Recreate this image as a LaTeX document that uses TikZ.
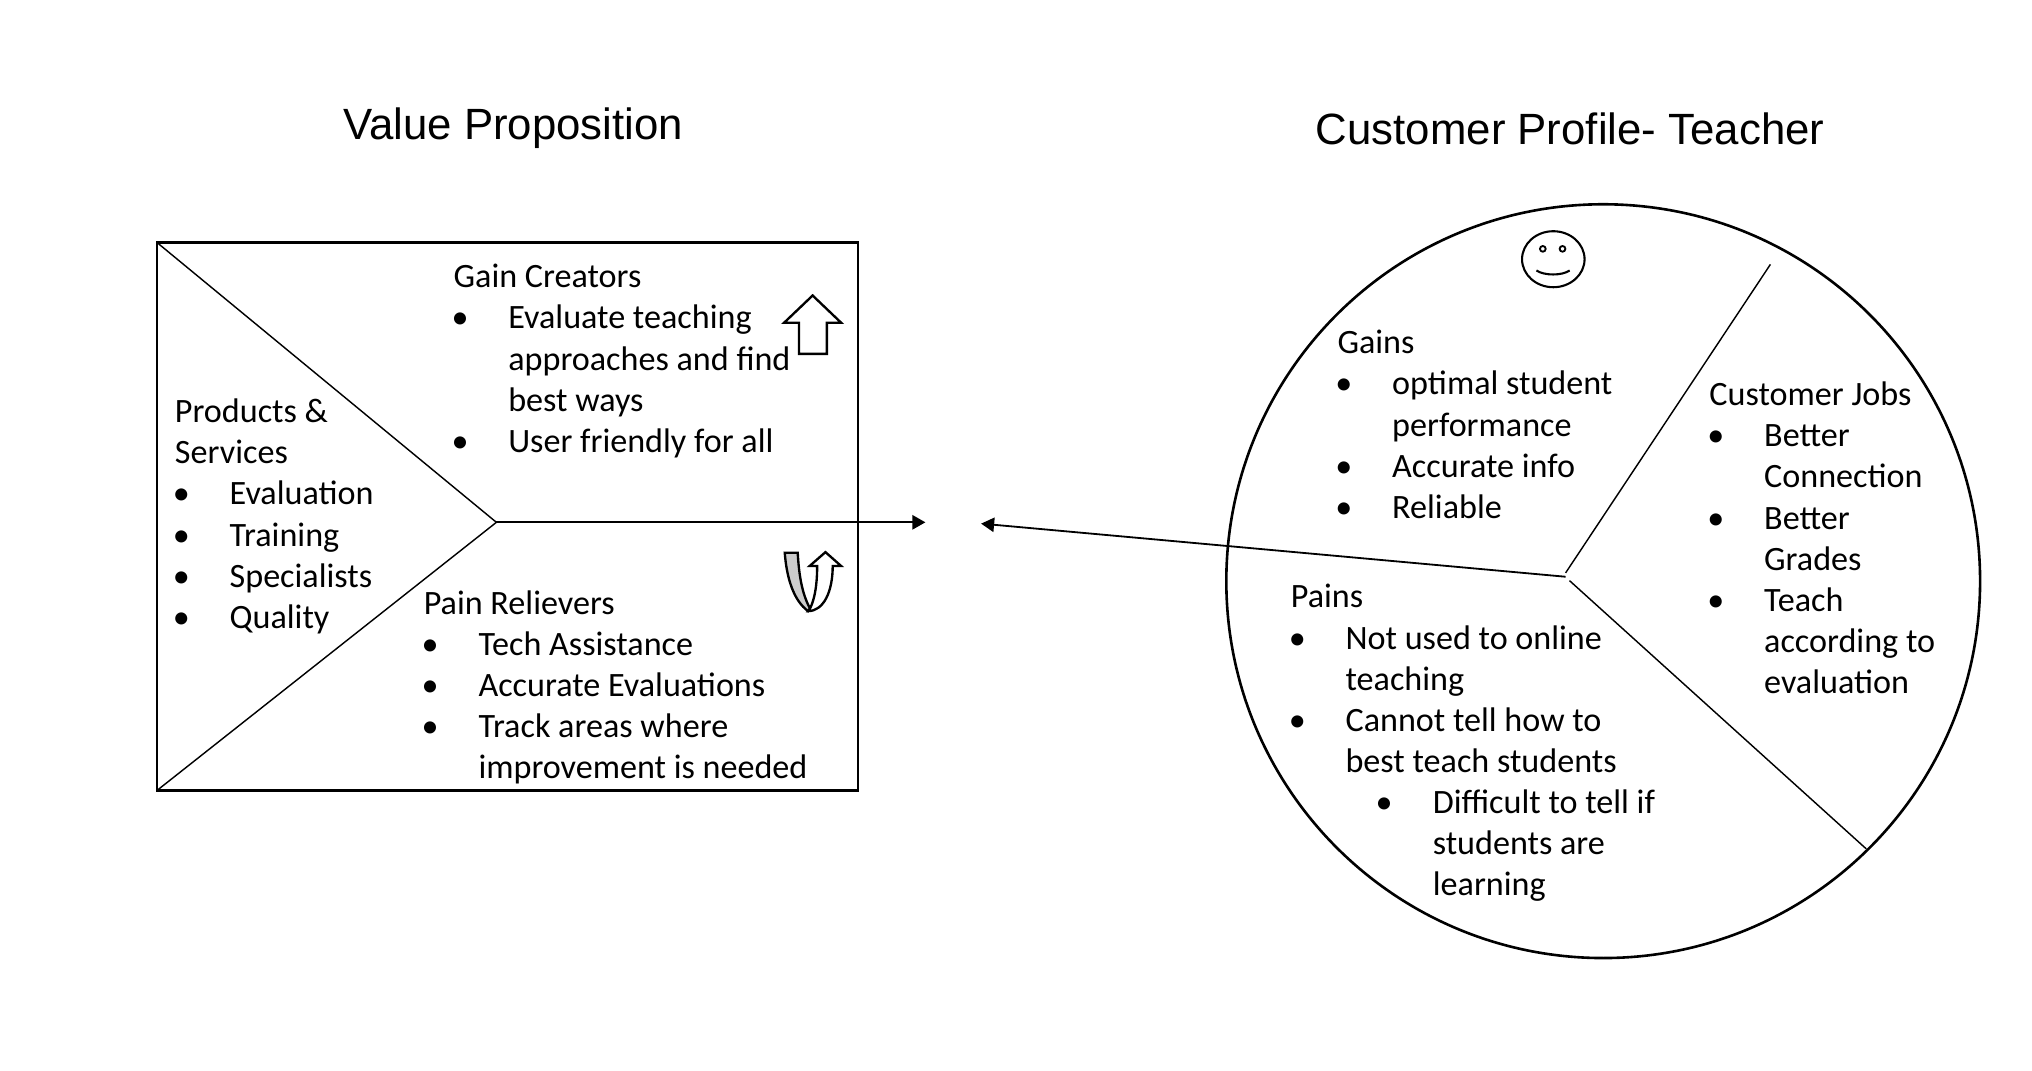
\documentclass[tikz,border=0pt]{standalone}
\usepackage{fontspec}
\setmainfont{Carlito}
\newfontfamily\titlefont{Liberation Sans}
\usetikzlibrary{arrows.meta}
\newcommand{\bitem}[1]{\makebox[21pt][l]{\hspace{-0.8pt}\textbullet}#1}
\newcommand{\bcont}[1]{\hspace{21pt}#1}
\newcommand{\bsub}[1]{\makebox[54.5pt][l]{\hspace{32.5pt}\textbullet}#1}
\newcommand{\bsubcont}[1]{\hspace{54.5pt}#1}
\tikzset{
  txt/.style={inner sep=0pt, outer sep=0pt, anchor=base west, font=\fontsize{13.1}{15.8}\selectfont},
  ttl/.style={inner sep=0pt, outer sep=0pt, anchor=base, font=\titlefont\fontsize{16.8}{20}\selectfont},
  thin line/.style={line width=0.55pt},
  frame line/.style={line width=1pt},
  conn/.style={line width=0.7pt, -{Triangle[length=5pt,width=5.5pt]}},
  block arrow/.style={line width=0.9pt, line join=miter, draw=black},
}
\begin{document}
\begin{tikzpicture}[x=0.4975pt,y=-0.4975pt]
\fill[white] (0pt,0pt) rectangle (780pt,-410.73pt);
\useasboundingbox (0pt,0pt) rectangle (780pt,-410.73pt);

% titles
\node[ttl] (vp) at (396,107.5) {Value Proposition};
\node[ttl] (cpt) at (1211.5,111.5) {Customer Profile- Teacher};

% value proposition box
\coordinate (rtl) at (121,187);
\coordinate (rbr) at (662,610);
\coordinate (rbl) at (121,610);
\coordinate (apex) at (383,403);
\coordinate (vpin) at (714,403);
\draw[frame line] (rtl) rectangle (rbr);
\draw[thin line] (rtl) -- (apex) -- (rbl);
\draw[conn] (apex) -- (vpin);

% up block arrow
\draw[block arrow, fill=white] (616.5,273) -- (616.5,249) -- (605,249) -- (627,228) -- (649,249) -- (638,249) -- (638,273) -- cycle;

% U-turn arrow
\begin{scope}[shift={(605.5,426.5)}]
\draw[block arrow, fill=black!20] (0,0) -- (10,0) .. controls (11,18) and (13.5,32) .. (19.5,43)
  -- (18,45) .. controls (7,37) and (1.5,20) .. (0,0) -- cycle;
\draw[block arrow, fill=white] (18,45) .. controls (30,45) and (37,30) .. (37,10.2) -- (43.5,10.2) -- (31.4,-0.5)
  -- (19.2,10.2) -- (25,10.2) .. controls (25,25) and (23,36) .. (19.5,43) -- cycle;
\end{scope}

% value proposition texts
\node[txt] (ps) at (135,326) {\begin{tabular}[t]{@{}l@{}}Products \&\\ Services\\ \bitem{Evaluation}\\ \bitem{Training}\\ \bitem{Specialists}\\ \bitem{Quality}\end{tabular}};
\node[txt] (gc) at (350,222) {\begin{tabular}[t]{@{}l@{}}Gain Creators\\ \bitem{Evaluate teaching}\\ \bcont{approaches and find}\\ \bcont{best ways}\\ \bitem{User friendly for all}\end{tabular}};
\node[txt] (pr) at (327,474) {\begin{tabular}[t]{@{}l@{}}Pain Relievers\\ \bitem{Tech Assistance}\\ \bitem{Accurate Evaluations}\\ \bitem{Track areas where}\\ \bcont{improvement is needed}\end{tabular}};

% customer profile circle
\coordinate (cpc) at (1237,448.4);
\draw[line width=1pt] (cpc) circle [radius=290.8];
\coordinate (hub) at (1208,445);
\coordinate (hubA) at (1208,442);
\coordinate (hubB) at (1211,448);
\coordinate (jtop) at (1366,204);
\coordinate (jbot) at (1440,655);
\coordinate (cpin) at (757,404);
\draw[thin line] (hubA) -- (jtop);
\draw[thin line] (hubB) -- (jbot);
\draw[conn] (hub) -- (cpin);

% smiley
\coordinate (face) at (1198.5,200);
\draw[line width=0.8pt] (face) ellipse [x radius=12pt, y radius=10.75pt];
\draw[line width=0.7pt] (1190.4,192) circle [radius=1.1pt];
\draw[line width=0.7pt] (1205.6,192) circle [radius=1.1pt];
\draw[line width=0.8pt] (1185.5,208.7) .. controls (1191.5,212.8) and (1205.1,212.8) .. (1211.1,208.7);

% customer profile texts
\node[txt] (gains) at (1032,273) {\begin{tabular}[t]{@{}l@{}}Gains\\ \bitem{optimal student}\\ \bcont{performance}\\ \bitem{Accurate info}\\ \bitem{Reliable}\end{tabular}};
\node[txt] (jobs) at (1319,313) {\begin{tabular}[t]{@{}l@{}}Customer Jobs\\ \bitem{Better}\\ \bcont{Connection}\\ \bitem{Better}\\ \bcont{Grades}\\ \bitem{Teach}\\ \bcont{according to}\\ \bcont{evaluation}\end{tabular}};
\node[txt] (pains) at (996,469) {\begin{tabular}[t]{@{}l@{}}Pains\\ \bitem{Not used to online}\\ \bcont{teaching}\\ \bitem{Cannot tell how to}\\ \bcont{best teach students}\\ \bsub{Difficult to tell if}\\ \bsubcont{students are}\\ \bsubcont{learning}\end{tabular}};
\end{tikzpicture}
\end{document}
